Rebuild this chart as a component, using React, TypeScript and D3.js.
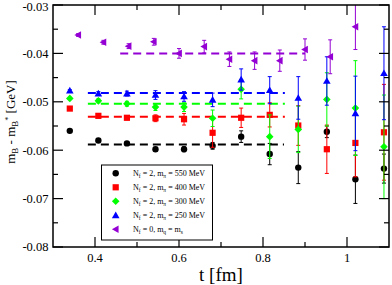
import React from "react";
import * as d3 from "d3";

// ---- data ----
const tNf2 = [0.34, 0.408, 0.476, 0.544, 0.612, 0.68, 0.748, 0.816, 0.884, 0.952, 1.02, 1.088];
const tNf0 = [0.36, 0.42, 0.48, 0.54, 0.6, 0.66, 0.72, 0.78, 0.84, 0.9, 0.96, 1.02];

const m550 = [-0.056, -0.058, -0.0586, -0.0598, -0.0598, -0.0591, -0.0572, -0.0608, -0.0636, -0.0562, -0.066, -0.0638];
const e550 = [0.0002, 0.0003, 0.0003, 0.0004, 0.0005, 0.0007, 0.0012, 0.0022, 0.0033, 0.0012, 0.005, 0.003];

const m400 = [-0.0514, -0.0529, -0.0533, -0.0534, -0.0536, -0.0564, -0.0533, -0.0527, -0.0549, -0.0598, -0.0585, -0.0563];
const e400 = [0.0002, 0.0004, 0.0004, 0.0007, 0.0012, 0.003, 0.002, 0.0025, 0.0041, 0.005, 0.007, 0.0099];

const m300 = [-0.0493, -0.0498, -0.0504, -0.0511, -0.0511, -0.0534, -0.0474, -0.0572, -0.0557, -0.0495, -0.0513, -0.0593];
const e300 = [0.0002, 0.0004, 0.0005, 0.0007, 0.0009, 0.0017, 0.002, 0.0045, 0.0048, 0.0055, 0.0098, 0.0107];

const m250 = [-0.0477, -0.0483, -0.0483, -0.0486, -0.0489, -0.0496, -0.0454, -0.0476, -0.0492, -0.0457, -0.0524, -0.0441];
const e250 = [0.0002, 0.0004, 0.0005, 0.0009, 0.001, 0.0014, 0.0022, 0.0028, 0.0044, 0.005, 0.0077, 0.0096];

const mNf0 = [-0.0362, -0.0377, -0.0385, -0.0376, -0.04, -0.0386, -0.0412, -0.0415, -0.0415, -0.0392, -0.0407, -0.0345];
const eNf0 = [0.0003, 0.0004, 0.0005, 0.0007, 0.001, 0.0013, 0.0015, 0.0018, 0.0022, 0.0022, 0.0035, 0.0047];

// plateau fits: value, t range
const fitValues = [-0.0588, -0.0531, -0.0504, -0.0482, -0.04];
const fitStart = [0.383, 0.383, 0.383, 0.383, 0.46];
const fitEnd = [0.85, 0.852, 0.852, 0.852, 0.9];

const mpiLabels = ["550", "400", "300", "250"];

const xMajor = [0.4, 0.6, 0.8, 1.0];
const xMajorLabels = ["0.4", "0.6", "0.8", "1"];
const xMinor = [0.5, 0.7, 0.9];
const yMajor = [-0.08, -0.07, -0.06, -0.05, -0.04, -0.03];
const yMajorLabels = ["-0.08", "-0.07", "-0.06", "-0.05", "-0.04", "-0.03"];
const yMinor = [-0.075, -0.065, -0.055, -0.045, -0.035];

// ---- layout ----
const W = 392, H = 285;
const L = 53, R = 389, T = 5, B = 247;
const FONT = "'Liberation Serif', 'DejaVu Serif', serif";

const x = d3.scaleLinear().domain([0.3, 1.1]).range([L, R]);
const y = d3.scaleLinear().domain([-0.08, -0.03]).range([B, T]);

type Shape = "circle" | "square" | "diamond" | "triUp" | "triLeft";

function Marker({ cx, cy, shape, color }: { cx: number; cy: number; shape: Shape; color: string }) {
  if (shape === "circle") return <circle cx={cx} cy={cy} r={3.2} fill={color} />;
  if (shape === "square") return <rect x={cx - 3.1} y={cy - 3.1} width={6.2} height={6.2} fill={color} />;
  if (shape === "diamond") {
    const s = 3.8;
    return <path d={`M${cx},${cy - s}L${cx + s},${cy}L${cx},${cy + s}L${cx - s},${cy}Z`} fill={color} />;
  }
  if (shape === "triUp") {
    const s = 3.8;
    return <path d={`M${cx},${cy - s}L${cx + s},${cy + s * 0.75}L${cx - s},${cy + s * 0.75}Z`} fill={color} />;
  }
  const s = 3.8;
  return <path d={`M${cx - s},${cy}L${cx + s * 0.75},${cy - s}L${cx + s * 0.75},${cy + s}Z`} fill={color} />;
}

const series = [
  { t: tNf2, v: m550, e: e550, color: "#000000", shape: "circle" as Shape },
  { t: tNf2, v: m400, e: e400, color: "#ff0000", shape: "square" as Shape },
  { t: tNf2, v: m300, e: e300, color: "#00ff00", shape: "diamond" as Shape },
  { t: tNf2, v: m250, e: e250, color: "#0000ff", shape: "triUp" as Shape },
  { t: tNf0, v: mNf0, e: eNf0, color: "#9400d3", shape: "triLeft" as Shape },
];

export default function App() {
  const legendX = 101.5, legendY = 165, legendW = 111, legendH = 75;
  return (
    <svg width={W} height={H} style={{ position: "absolute", left: 0, top: 0, background: "#fff" }} fontFamily={FONT}>
      <defs>
        <clipPath id="plot">
          <rect x={L} y={T} width={R - L} height={B - T} />
        </clipPath>
      </defs>
      <rect x={0} y={0} width={W} height={H} fill="#fff" />

      {/* fits */}
      <g clipPath="url(#plot)">
        {fitValues.map((fv, i) => (
          <line key={"f" + i} x1={x(fitStart[i])} x2={x(fitEnd[i])} y1={y(fv)} y2={y(fv)}
            stroke={series[i].color} strokeWidth={2} strokeDasharray="8,5" />
        ))}
      </g>

      {/* data */}
      <g clipPath="url(#plot)">
        {series.map((s, si) => (
          <g key={"s" + si}>
            {s.t.map((t, i) => {
              const cx = x(t);
              const y1 = y(s.v[i] + s.e[i]);
              const y2 = y(s.v[i] - s.e[i]);
              return (
                <g key={i}>
                  <line x1={cx} x2={cx} y1={y1} y2={y2} stroke={s.color} strokeWidth={1} />
                  <line x1={cx - 2} x2={cx + 2} y1={y1} y2={y1} stroke={s.color} strokeWidth={1} />
                  <line x1={cx - 2} x2={cx + 2} y1={y2} y2={y2} stroke={s.color} strokeWidth={1} />
                  <Marker cx={cx} cy={y(s.v[i])} shape={s.shape} color={s.color} />
                </g>
              );
            })}
          </g>
        ))}
      </g>

      {/* frame */}
      <rect x={L} y={T} width={R - L} height={B - T} fill="none" stroke="#000" strokeWidth={1.5} />

      {/* ticks */}
      {xMajor.map((v) => (
        <g key={"xm" + v}>
          <line x1={x(v)} x2={x(v)} y1={B} y2={B - 10} stroke="#000" strokeWidth={1.2} />
          <line x1={x(v)} x2={x(v)} y1={T} y2={T + 10} stroke="#000" strokeWidth={1.2} />
        </g>
      ))}
      {xMinor.map((v) => (
        <g key={"xn" + v}>
          <line x1={x(v)} x2={x(v)} y1={B} y2={B - 5} stroke="#000" strokeWidth={1.2} />
          <line x1={x(v)} x2={x(v)} y1={T} y2={T + 5} stroke="#000" strokeWidth={1.2} />
        </g>
      ))}
      {yMajor.map((v) => (
        <g key={"ym" + v}>
          <line x1={L} x2={L + 10} y1={y(v)} y2={y(v)} stroke="#000" strokeWidth={1.2} />
          <line x1={R} x2={R - 10} y1={y(v)} y2={y(v)} stroke="#000" strokeWidth={1.2} />
        </g>
      ))}
      {yMinor.map((v) => (
        <g key={"yn" + v}>
          <line x1={L} x2={L + 5} y1={y(v)} y2={y(v)} stroke="#000" strokeWidth={1.2} />
          <line x1={R} x2={R - 5} y1={y(v)} y2={y(v)} stroke="#000" strokeWidth={1.2} />
        </g>
      ))}

      {/* tick labels */}
      {xMajor.map((v, i) => (
        <text key={"xl" + v} x={x(v)} y={262} textAnchor="middle" fontSize={12.5}>{xMajorLabels[i]}</text>
      ))}
      {yMajor.map((v, i) => (
        <text key={"yl" + v} x={48.5} y={Math.max(y(v), 6.5)} dy="0.35em" textAnchor="end" fontSize={12.5}>{yMajorLabels[i]}</text>
      ))}

      {/* axis labels */}
      <text x={(L + R) / 2} y={281} textAnchor="middle" fontSize={19}>t [fm]</text>
      <text transform={`translate(15,${(T + B) / 2 - 4}) rotate(-90)`} textAnchor="middle" fontSize={13}>
        m<tspan fontSize={9} dy={3}>B</tspan>
        <tspan dy={-3}> - m</tspan>
        <tspan fontSize={9} dy={3}>B</tspan>
        <tspan fontSize={8} dy={-7}>*</tspan>
        <tspan dy={4}> [GeV]</tspan>
      </text>

      {/* legend */}
      <rect x={legendX} y={legendY} width={legendW} height={legendH} fill="#fff" stroke="#000" strokeWidth={1} />
      {series.map((s, i) => {
        const ly = 173.3 + i * 14;
        return (
          <g key={"lg" + i}>
            <Marker cx={115.7} cy={ly} shape={s.shape} color={s.color} />
            <text x={133} y={ly + 3} fontSize={8}>
              {i < 4 ? (
                <>
                  N<tspan fontSize={5.5} dy={2}>f</tspan>
                  <tspan dy={-2}> = 2, m</tspan>
                  <tspan fontSize={5.5} dy={2}>π</tspan>
                  <tspan dy={-2}> = {mpiLabels[i]} MeV</tspan>
                </>
              ) : (
                <>
                  N<tspan fontSize={5.5} dy={2}>f</tspan>
                  <tspan dy={-2}> = 0, m</tspan>
                  <tspan fontSize={5.5} dy={2}>q</tspan>
                  <tspan dy={-2}> = m</tspan>
                  <tspan fontSize={5.5} dy={2}>s</tspan>
                </>
              )}
            </text>
          </g>
        );
      })}
    </svg>
  );
}
